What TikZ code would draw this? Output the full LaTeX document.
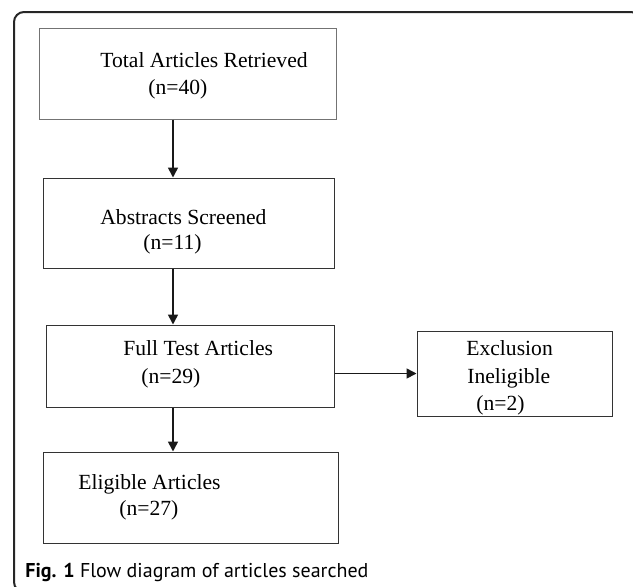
\documentclass[tikz,border=0pt]{standalone}
\usepackage{fontspec}
\setmainfont{Liberation Serif}
\newfontfamily\capfont{PT Sans}
\usetikzlibrary{arrows.meta}
\tikzset{
  box/.style={draw=black!80, line width=0.5pt, inner sep=0pt},
  txt/.style={anchor=base west, inner sep=0pt, font=\fontsize{10.8}{13}\selectfont},
  flow/.style={->, line width=0.8pt, black!90}
}

\begin{document}
\begin{tikzpicture}[x=0.5pt, y=-0.5pt, >={Triangle[length=5pt, width=5pt]}]
                \useasboundingbox (0,0) rectangle (633,586);
                \draw[line width=1pt, black!85, rounded corners=5pt] (14,12) rectangle (641,592);
                \node[box, draw=black!55, minimum width=148.5pt, minimum height=45.5pt] (total) at (187.5,73.5) {};
                \node[box, minimum width=145.5pt, minimum height=45pt] (abstracts) at (188.5,223) {};
                \node[box, minimum width=144pt, minimum height=41pt] (fulltext) at (190,366) {};
                \node[box, minimum width=97.5pt, minimum height=42.5pt] (exclusion) at (514.5,373.5) {};
                \node[box, minimum width=147.5pt, minimum height=45.5pt] (eligible) at (190.5,497.5) {};
                \node[txt] (totalA) at (100,67) {Total Articles Retrieved};
                \node[txt] (totalB) at (148,94) {(n=40)};
                \node[txt] (abstractsA) at (100,224) {Abstracts Screened};
                \node[txt] (abstractsB) at (143,249) {(n=11)};
                \node[txt] (fulltextA) at (123,355) {Full Test Articles};
                \node[txt] (fulltextB) at (141,383) {(n=29)};
                \node[txt] (exclusionA) at (466,355) {Exclusion};
                \node[txt] (exclusionB) at (467,383) {Ineligible};
                \node[txt] (exclusionC) at (476,410) {(n=2)};
                \node[txt] (eligibleA) at (78,489) {Eligible Articles};
                \node[txt] (eligibleB) at (119,515) {(n=27)};
                \coordinate (spine) at (173,0);
                \draw[flow] (total.south -| spine) -- (abstracts.north -| spine);
                \draw[flow] (abstracts.south -| spine) -- (fulltext.north -| spine);
                \draw[flow] (fulltext.south -| spine) -- (eligible.north -| spine);
                \draw[flow] (fulltext.east |- exclusion.west) -- (exclusion.west);
                \node[anchor=base west, inner sep=0pt, font=\capfont\fontsize{10}{12}\selectfont] (caption) at (25,577) {\textbf{Fig. 1} Flow diagram of articles searched};
            \end{tikzpicture}
\end{document}
